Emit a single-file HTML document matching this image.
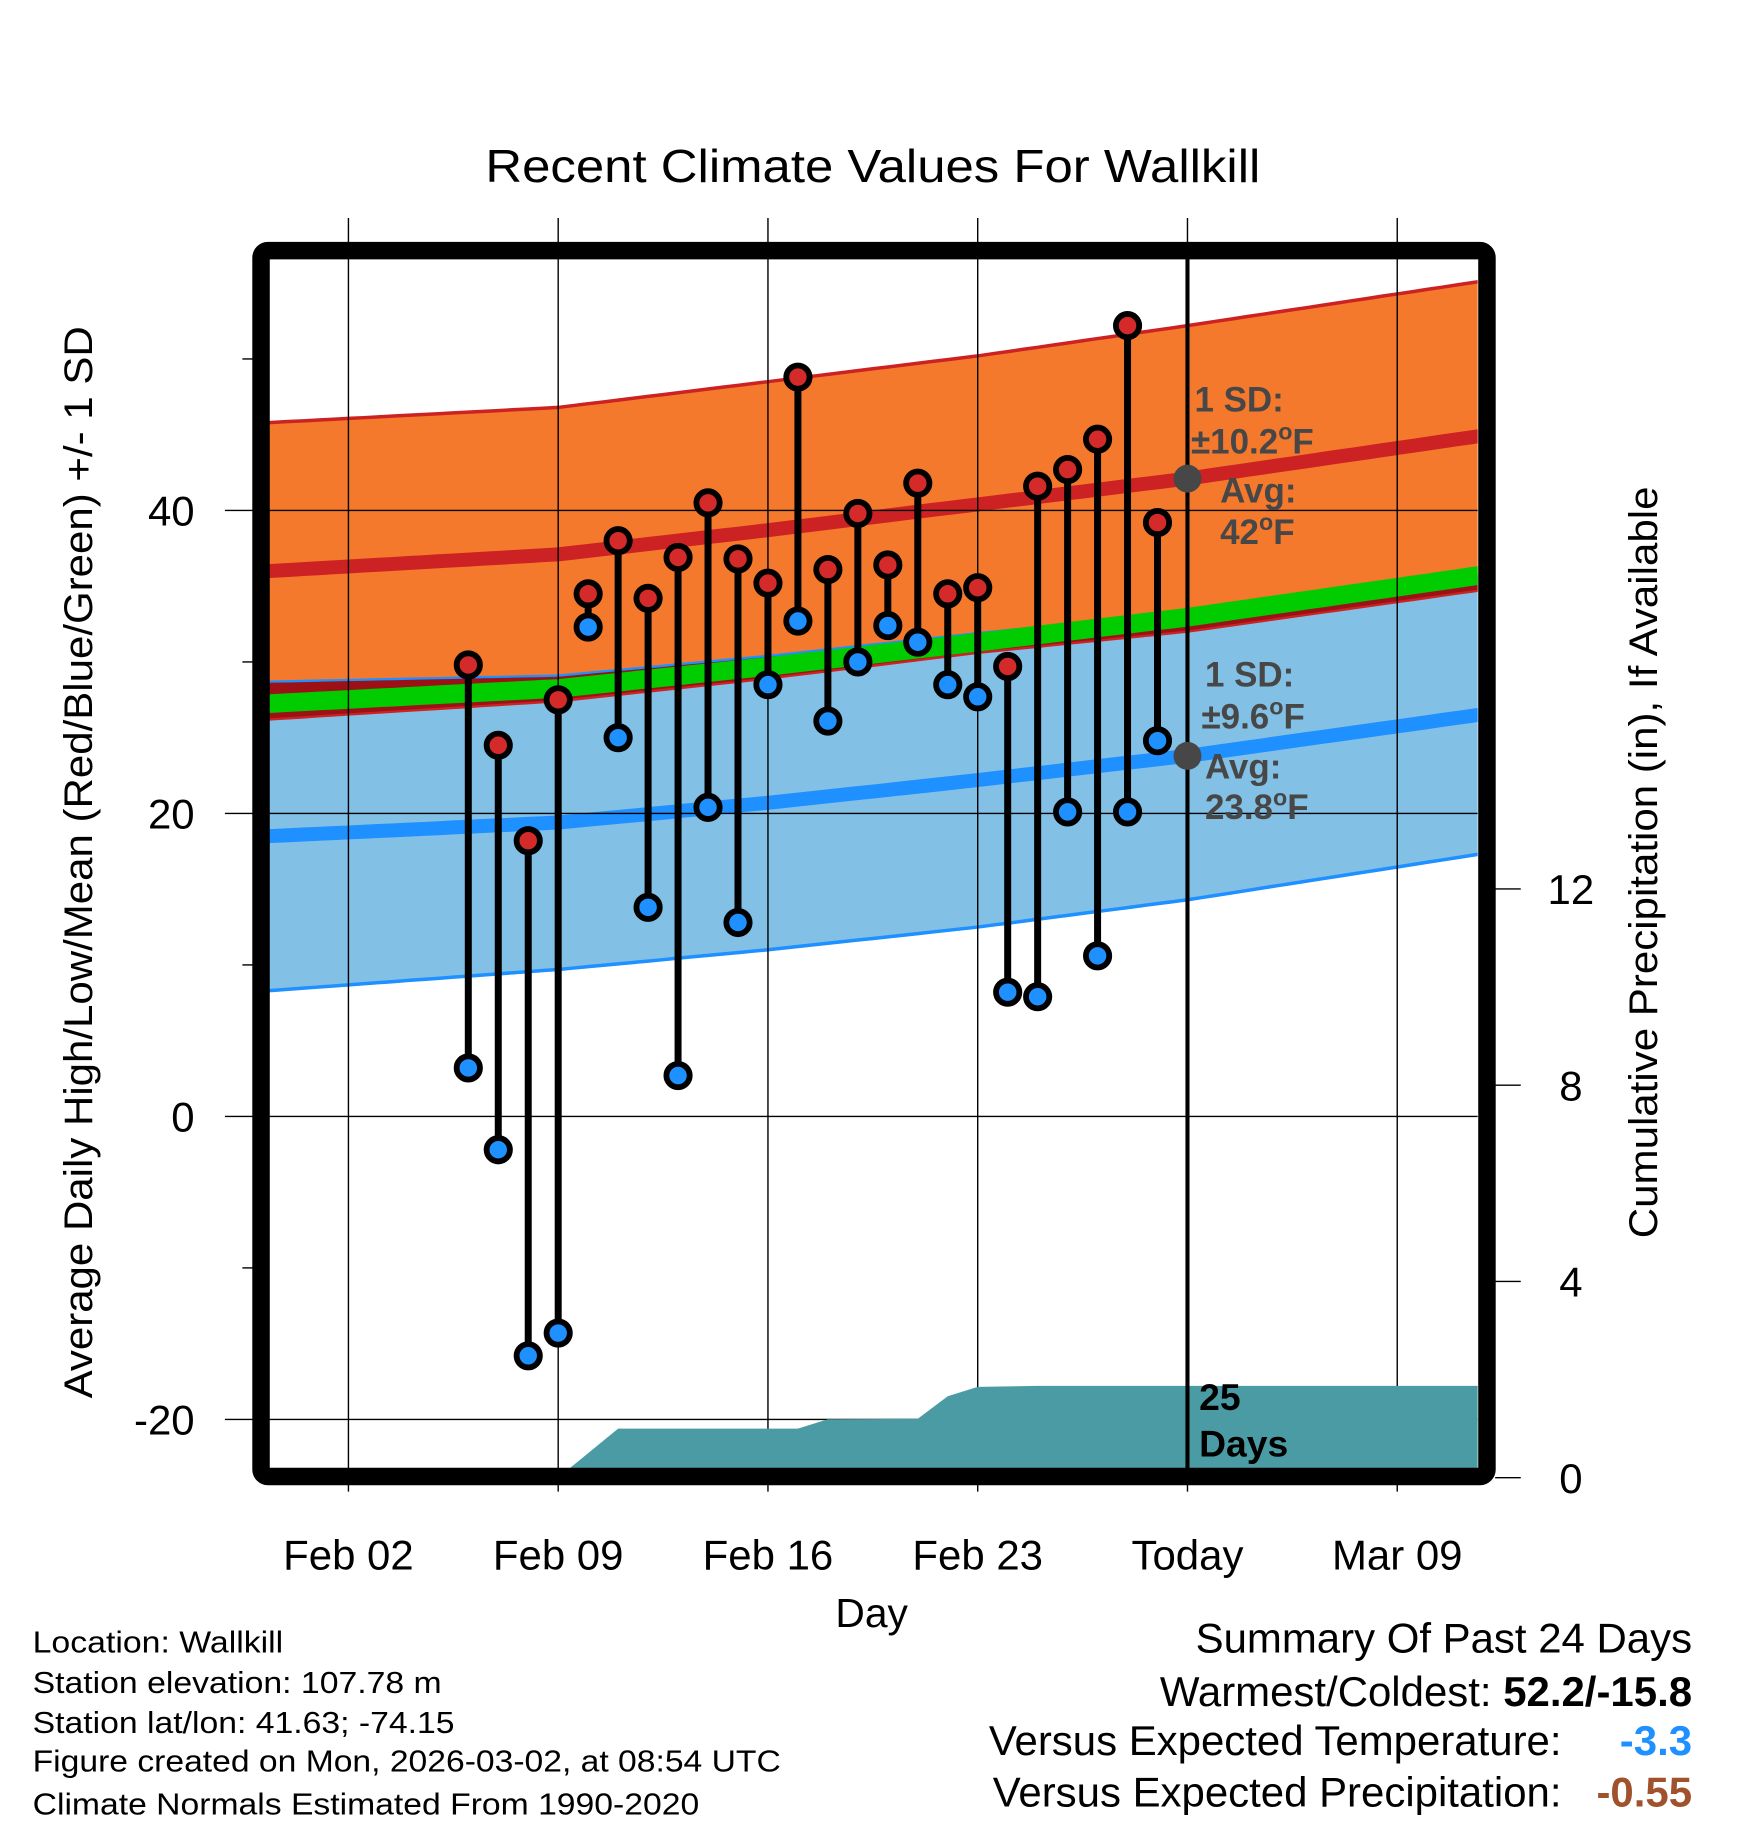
<!DOCTYPE html>
<html><head><meta charset="utf-8"><style>
html,body{margin:0;padding:0;background:#fff;}
svg{display:block;font-family:"Liberation Sans",Arial,sans-serif;}
</style></head><body>
<svg id="chart" width="1748" height="1828" viewBox="0 0 1500 1568.6" xmlns="http://www.w3.org/2000/svg">
<defs><clipPath id="plotclip"><rect x="231" y="222" width="1037" height="1038"/></clipPath></defs>
<g id="bands" clip-path="url(#plotclip)"></g>
<g id="grid"></g>
<g id="precip" clip-path="url(#plotclip)"></g>
<g id="obs"></g>
<g id="axes"></g>
<text x="749" y="156" font-size="40" text-anchor="middle" textLength="665" lengthAdjust="spacingAndGlyphs">Recent Climate Values For Wallkill</text>
<text x="748" y="1396" font-size="35" text-anchor="middle">Day</text>
<text transform="translate(79,740) rotate(-90)" font-size="34" text-anchor="middle" textLength="920" lengthAdjust="spacingAndGlyphs">Average Daily High/Low/Mean (Red/Blue/Green) +/- 1 SD</text>
<text transform="translate(1422,740) rotate(-90)" font-size="34" text-anchor="middle" textLength="645" lengthAdjust="spacingAndGlyphs">Cumulative Precipitation (in), If Available</text>
<g font-size="30" font-weight="bold" fill="#474747">
<text x="1025" y="353">1 SD:</text>
<text x="1022" y="389">±10.2<tspan font-size="20" dy="-12">o</tspan><tspan dy="12">F</tspan></text>
<text x="1047" y="431">Avg:</text>
<text x="1047" y="467">42<tspan font-size="20" dy="-12">o</tspan><tspan dy="12">F</tspan></text>
</g>
<g font-size="30" font-weight="bold" fill="#474747">
<text x="1034" y="589">1 SD:</text>
<text x="1031" y="625">±9.6<tspan font-size="20" dy="-12">o</tspan><tspan dy="12">F</tspan></text>
<text x="1034" y="668">Avg:</text>
<text x="1034" y="703">23.8<tspan font-size="20" dy="-12">o</tspan><tspan dy="12">F</tspan></text>
</g>
<g font-size="32" font-weight="bold" fill="#000">
<text x="1029" y="1210">25</text>
<text x="1029" y="1250">Days</text>
</g>
<g font-size="26" fill="#000">
<text x="28" y="1418" textLength="215" lengthAdjust="spacingAndGlyphs">Location: Wallkill</text>
<text x="28" y="1453" textLength="351" lengthAdjust="spacingAndGlyphs">Station elevation: 107.78 m</text>
<text x="28" y="1487" textLength="362" lengthAdjust="spacingAndGlyphs">Station lat/lon: 41.63; -74.15</text>
<text x="28" y="1520" textLength="642" lengthAdjust="spacingAndGlyphs">Figure created on Mon, 2026-03-02, at 08:54 UTC</text>
<text x="28" y="1557" textLength="572" lengthAdjust="spacingAndGlyphs">Climate Normals Estimated From 1990-2020</text>
</g>
<g font-size="36" fill="#000">
<text x="1452" y="1418" text-anchor="end">Summary Of Past 24 Days</text>
<text x="1452" y="1464" text-anchor="end">Warmest/Coldest: <tspan font-weight="bold">52.2/-15.8</tspan></text>
<text x="1340" y="1506" text-anchor="end">Versus Expected Temperature:</text>
<text x="1452" y="1506" text-anchor="end" font-weight="bold" fill="#1e90ff">-3.3</text>
<text x="1340" y="1550" text-anchor="end">Versus Expected Precipitation:</text>
<text x="1452" y="1550" text-anchor="end" font-weight="bold" fill="#a0522d">-0.55</text>
</g>
</svg>
<script>
// ---- data ----
const normDays = [-0.64, 9, 16, 23, 30, 39.7];
const highMean = [36.0, 37.1, 38.7, 40.4, 42.1, 44.9];
const highUpper = [45.8, 46.8, 48.5, 50.2, 52.2, 55.1];
const lowMean = [18.5, 19.4, 20.7, 22.2, 23.8, 26.5];
const lowLower = [8.3, 9.7, 11.0, 12.5, 14.3, 17.3];
const obsDays = [6,7,8,9,10,11,12,13,14,15,16,17,18,19,20,21,22,23,24,25,26,27,28,29];
const highs = [29.8,24.5,18.2,27.5,34.5,38.0,34.2,36.9,40.5,36.8,35.2,48.8,36.1,39.8,36.4,41.8,34.5,34.9,29.7,41.6,42.7,44.7,52.2,39.2];
const lows = [3.2,-2.2,-15.8,-14.3,32.3,25.0,13.8,2.7,20.4,12.8,28.5,32.7,26.1,30.0,32.4,31.3,28.5,27.7,8.2,7.9,20.1,10.6,20.1,24.8];
const precipDays = [9,11,17,18,21,22,23,25,29,40];
const precipCum = [0,1.0,1.0,1.19,1.2,1.66,1.85,1.87,1.87,1.87];
const yTicks = [40,20,0,-20];
const yMinor = [50,30,10,-10];
const y2Ticks = [0,4,8,12];
const xTickDays = [2,9,16,23,30,37];
const xTickLabels = ["Feb 02","Feb 09","Feb 16","Feb 23","Today","Mar 09"];
const todayDay = 30;
// ---- scales ----
const NS="http://www.w3.org/2000/svg";
function X(d){return 299+(d-2)*180/7;}
function Y(v){return 958-13*v;}
function Y2(p){return 1268-42.1*p;}
function mk(parent,tag,attrs){const e=document.createElementNS(NS,tag);for(const k in attrs)e.setAttribute(k,attrs[k]);document.getElementById(parent).appendChild(e);return e;}
function interp(arr,d){for(let i=0;i<normDays.length-1;i++){if(d<=normDays[i+1]||i===normDays.length-2){const t=(d-normDays[i])/(normDays[i+1]-normDays[i]);return arr[i]+t*(arr[i+1]-arr[i]);}}}
const samp=[];for(let d=-1;d<=40.5;d+=0.5)samp.push(d);
const hLow=d=>2*interp(highMean,d)-interp(highUpper,d);
const lUp=d=>2*interp(lowMean,d)-interp(lowLower,d);
function line(fn){return samp.map(d=>X(d).toFixed(1)+','+Y(fn(d)).toFixed(1)).join(' ');}
function band(f1,f2){return samp.map(d=>X(d).toFixed(1)+','+Y(f1(d)).toFixed(1)).concat(samp.slice().reverse().map(d=>X(d).toFixed(1)+','+Y(f2(d)).toFixed(1))).join(' ');}
let e;
e=mk('bands','polygon',{points:band(d=>interp(lowLower,d),lUp),fill:'#82c0e6'});

e=mk('bands','polygon',{points:band(hLow,d=>interp(highUpper,d)),fill:'#f5792c'});

e=mk('bands','polygon',{points:band(hLow,lUp),fill:'#9b1116'});

e=mk('bands','polyline',{points:line(lUp),fill:'none',stroke:'#1e90ff','stroke-width':2});

e=mk('bands','polyline',{points:line(hLow),fill:'none',stroke:'#cc2222','stroke-width':2});

e=mk('bands','polyline',{points:line(d=>interp(highUpper,d)),fill:'none',stroke:'#cc2222','stroke-width':3});

e=mk('bands','polyline',{points:line(d=>interp(lowLower,d)),fill:'none',stroke:'#1e90ff','stroke-width':3});

e=mk('bands','polyline',{points:line(d=>(interp(highMean,d)+interp(lowMean,d))/2),fill:'none',stroke:'#00cc00','stroke-width':16});

e=mk('bands','polyline',{points:line(d=>interp(highMean,d)),fill:'none',stroke:'#cd2224','stroke-width':12});

e=mk('bands','polyline',{points:line(d=>interp(lowMean,d)),fill:'none',stroke:'#1e90ff','stroke-width':12});

xTickDays.forEach(d=>{e=mk('grid','line',{x1:X(d),x2:X(d),y1:187,y2:1280,stroke:'#000','stroke-width':1.2});
});
yTicks.forEach(v=>{e=mk('grid','line',{x1:193,x2:1268,y1:Y(v),y2:Y(v),stroke:'#000','stroke-width':1.2});
});
let pts=[X(precipDays[0])+','+Y2(0)];
precipDays.forEach((d,i)=>pts.push(X(d)+','+Y2(precipCum[i])));
pts.push(X(precipDays[precipDays.length-1])+','+Y2(0));
e=mk('precip','polygon',{points:pts.join(' '),fill:'#4a9ba3'});

e=mk('obs','line',{x1:X(todayDay),x2:X(todayDay),y1:222,y2:1260,stroke:'#000','stroke-width':3.5});

e=mk('obs','circle',{cx:X(todayDay),cy:Y(interp(highMean,todayDay)),r:12,fill:'#474747'});

e=mk('obs','circle',{cx:X(todayDay),cy:Y(interp(lowMean,todayDay)),r:12,fill:'#474747'});

obsDays.forEach((d,i)=>{
 e=mk('obs','line',{x1:X(d),x2:X(d),y1:Y(highs[i]),y2:Y(lows[i]),stroke:'#000','stroke-width':6});
 
 e=mk('obs','circle',{cx:X(d),cy:Y(highs[i]),r:10,fill:'#d42a2a',stroke:'#000','stroke-width':5});
 
 e=mk('obs','circle',{cx:X(d),cy:Y(lows[i]),r:10,fill:'#1e90ff',stroke:'#000','stroke-width':5});
 
});
e=mk('axes','rect',{x:224,y:215,width:1052,height:1052,rx:6,fill:'none',stroke:'#000','stroke-width':15});

yTicks.forEach(v=>{
 e=mk('axes','text',{x:167,y:Y(v)+13,'font-size':36,'text-anchor':'end'});e.textContent=v;
 
});
yMinor.forEach(v=>{e=mk('axes','line',{x1:208,x2:217,y1:Y(v),y2:Y(v),stroke:'#000','stroke-width':1.2});
});
y2Ticks.forEach(p=>{
 e=mk('axes','line',{x1:1283,x2:1305,y1:Y2(p),y2:Y2(p),stroke:'#000','stroke-width':1.2});
 
 e=mk('axes','text',{x:1348,y:Y2(p)+13,'font-size':36,'text-anchor':'middle'});e.textContent=p;
 
});
xTickDays.forEach((d,i)=>{
 e=mk('axes','text',{x:X(d),y:1347,'font-size':36,'text-anchor':'middle'});e.textContent=xTickLabels[i];
 
});
</script>
</body></html>
